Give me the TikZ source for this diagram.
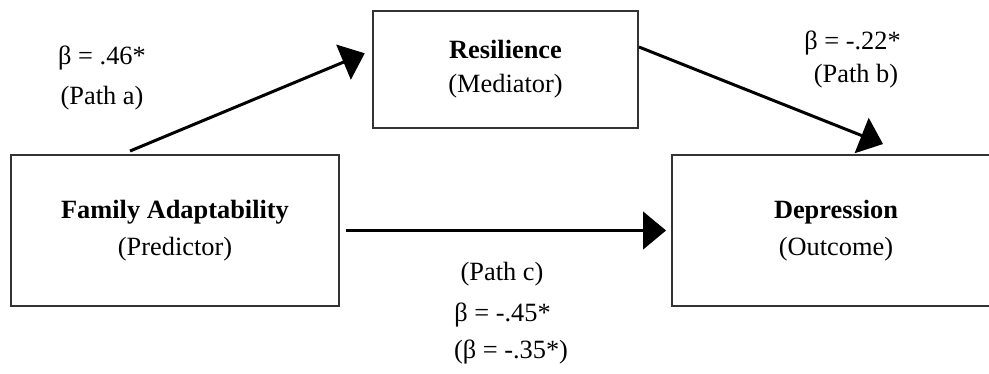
\documentclass[tikz,border=0pt]{standalone}
\usepackage{fontspec}
\setmainfont{Liberation Serif}
\usetikzlibrary{arrows.meta}

\begin{document}
\begin{tikzpicture}[
  varbox/.style={draw=black!80, line width=1.1pt, minimum width=6.56cm, minimum height=3.02cm,
    align=center, inner sep=0pt, font=\fontsize{15}{21}\selectfont},
  pathlab/.style={anchor=base, font=\fontsize{15}{18}\selectfont},
  conn/.style={line width=1.7pt, -{Triangle[length=0.46cm, width=0.75cm]}}
]
\def\W{19.78}
\def\H{7.48}
\useasboundingbox (0,0) rectangle (\W,\H);
\clip (0,0) rectangle (\W,\H);

\def\xf{3.5};
\def\xr{10.11};
\def\xd{16.72};
\def\yf{2.87};
\def\yr{6.09};

\node[varbox] (fam) at (\xf, \yf) {\textbf{Family Adaptability}\\(Predictor)};
\node[varbox, minimum width=5.3cm, minimum height=2.34cm, font=\fontsize{15}{19.5}\selectfont] (res) at (\xr, \yr) {\textbf{Resilience}\\(Mediator)};
\node[varbox] (dep) at (\xd, \yf) {\textbf{Depression}\\(Outcome)};

\node[pathlab] (la) at (2.04, 6.18) {β = .46*};
\node[pathlab] (lapath) at (2.04, 5.38) {(Path a)};

\node[pathlab] (lb) at (17.05, 6.48) {β = -.22*};
\node[pathlab] (lbpath) at (17.12, 5.82) {(Path b)};

\node[pathlab] (lcpath) at (10.04, 1.86) {(Path c)};
\node[pathlab] (lc) at (10.05, 1.04) {β = -.45*};
\node[pathlab] (lcdir) at (10.22, 0.30) {(β = -.35*)};

\draw[conn] ([xshift=-0.9cm, yshift=0.06cm]fam.north) -- ([xshift=-0.146cm, yshift=0.324cm]res.west);
\draw[conn] ([yshift=0.45cm]res.east) -- ([xshift=0.94cm, yshift=0.2cm]dep.north);
\draw[conn] ([xshift=0.12cm]fam.east) -- ([xshift=-0.1cm]dep.west);

\end{tikzpicture}
\end{document}
